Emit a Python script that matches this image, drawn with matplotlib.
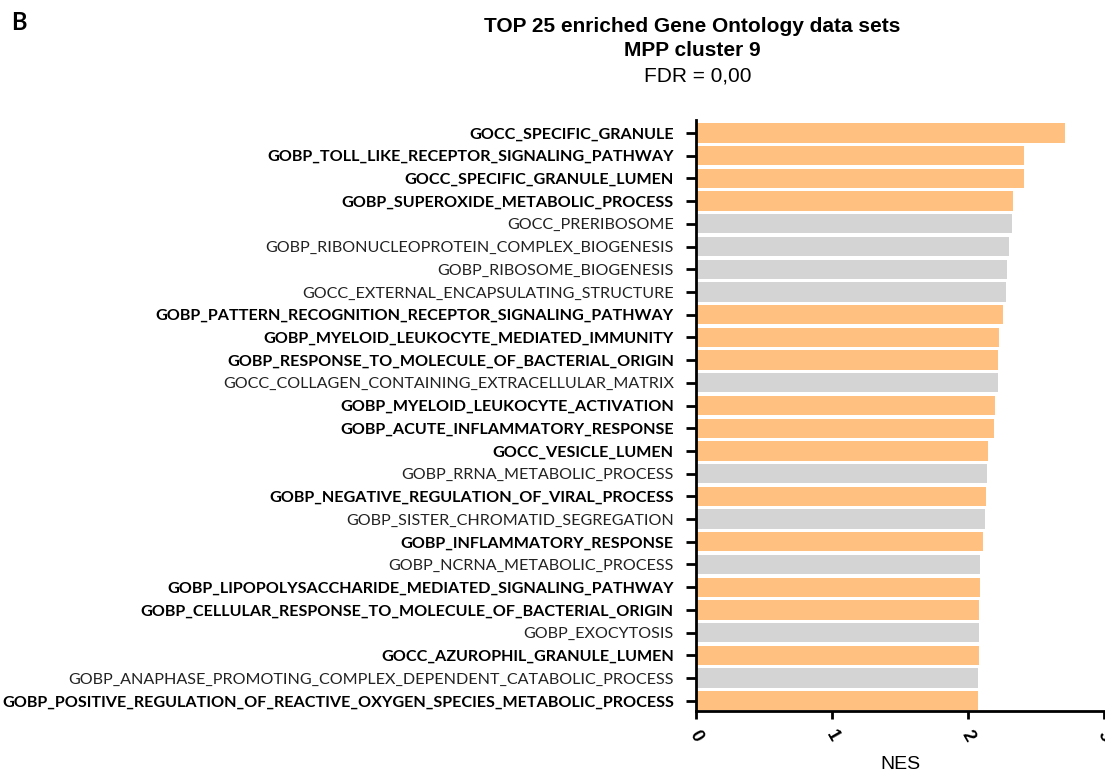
import matplotlib.pyplot as plt
import numpy as np

# gene sets, top to bottom
labels = [
    'GOCC_SPECIFIC_GRANULE',
    'GOBP_TOLL_LIKE_RECEPTOR_SIGNALING_PATHWAY',
    'GOCC_SPECIFIC_GRANULE_LUMEN',
    'GOBP_SUPEROXIDE_METABOLIC_PROCESS',
    'GOCC_PRERIBOSOME',
    'GOBP_RIBONUCLEOPROTEIN_COMPLEX_BIOGENESIS',
    'GOBP_RIBOSOME_BIOGENESIS',
    'GOCC_EXTERNAL_ENCAPSULATING_STRUCTURE',
    'GOBP_PATTERN_RECOGNITION_RECEPTOR_SIGNALING_PATHWAY',
    'GOBP_MYELOID_LEUKOCYTE_MEDIATED_IMMUNITY',
    'GOBP_RESPONSE_TO_MOLECULE_OF_BACTERIAL_ORIGIN',
    'GOCC_COLLAGEN_CONTAINING_EXTRACELLULAR_MATRIX',
    'GOBP_MYELOID_LEUKOCYTE_ACTIVATION',
    'GOBP_ACUTE_INFLAMMATORY_RESPONSE',
    'GOCC_VESICLE_LUMEN',
    'GOBP_RRNA_METABOLIC_PROCESS',
    'GOBP_NEGATIVE_REGULATION_OF_VIRAL_PROCESS',
    'GOBP_SISTER_CHROMATID_SEGREGATION',
    'GOBP_INFLAMMATORY_RESPONSE',
    'GOBP_NCRNA_METABOLIC_PROCESS',
    'GOBP_LIPOPOLYSACCHARIDE_MEDIATED_SIGNALING_PATHWAY',
    'GOBP_CELLULAR_RESPONSE_TO_MOLECULE_OF_BACTERIAL_ORIGIN',
    'GOBP_EXOCYTOSIS',
    'GOCC_AZUROPHIL_GRANULE_LUMEN',
    'GOBP_ANAPHASE_PROMOTING_COMPLEX_DEPENDENT_CATABOLIC_PROCESS',
    'GOBP_POSITIVE_REGULATION_OF_REACTIVE_OXYGEN_SPECIES_METABOLIC_PROCESS',
]
nes = [2.71, 2.41, 2.41, 2.33, 2.32, 2.30, 2.29, 2.28, 2.26, 2.23, 2.22, 2.22, 2.20,
       2.19, 2.15, 2.14, 2.13, 2.125, 2.11, 2.09, 2.09, 2.08, 2.08, 2.08, 2.07, 2.07]
# 1 = highlighted (immune related), 0 = other
highlight = [1, 1, 1, 1, 0, 0, 0, 0, 1, 1, 1, 0, 1, 1, 1, 0, 1, 0, 1, 0, 1, 1, 0, 1, 0, 1]

ORANGE = '#ffc080'
GREY = '#d4d4d4'

fig = plt.figure(figsize=(11.05, 7.78), dpi=100)
ax = fig.add_axes([696 / 1105, 1 - 711 / 778, 408 / 1105, (711 - 120) / 778])

y = np.arange(len(labels))
colors = [ORANGE if h else GREY for h in highlight]
ax.barh(y, nes, height=0.85, color=colors, edgecolor='none')

ax.set_ylim(len(labels) - 0.55, -0.57)
ax.set_xlim(0, 3)
ax.set_yticks(y)
ax.set_yticklabels(labels, family='Lato', fontsize=11.6)
for lab, h in zip(ax.get_yticklabels(), highlight):
    lab.set_fontweight('bold' if h else 'normal')
    lab.set_color('black' if h else '#222222')

ax.set_xticks([0, 1, 2, 3])
ax.set_xticklabels(['0', '1', '2', '3'], rotation=-60, ha='center', va='top',
                   family='Liberation Sans', fontsize=13, fontweight='bold')
ax.tick_params(axis='y', length=7, width=2, pad=9)
ax.tick_params(axis='x', length=6, width=2, pad=6)
for s in ['top', 'right']:
    ax.spines[s].set_visible(False)
for s in ['left', 'bottom']:
    ax.spines[s].set_linewidth(2)
ax.set_xlabel('NES', family='Liberation Sans', fontsize=14, labelpad=8)

fig.text(692 / 1105, 1 - 27 / 778, 'TOP 25 enriched Gene Ontology data sets', ha='center', va='center',
         family='Liberation Sans', fontsize=15, fontweight='bold')
fig.text(692 / 1105, 1 - 51 / 778, 'MPP cluster 9', ha='center', va='center',
         family='Liberation Sans', fontsize=15, fontweight='bold')
fig.text(698 / 1105, 1 - 76 / 778, 'FDR = 0,00', ha='center', va='center',
         family='Liberation Sans', fontsize=15)
fig.text(11 / 1105, 1 - 22 / 778, 'B', ha='left', va='center',
         family='Lato', fontsize=17, fontweight='bold')

fig.savefig('out.png', dpi=100)
